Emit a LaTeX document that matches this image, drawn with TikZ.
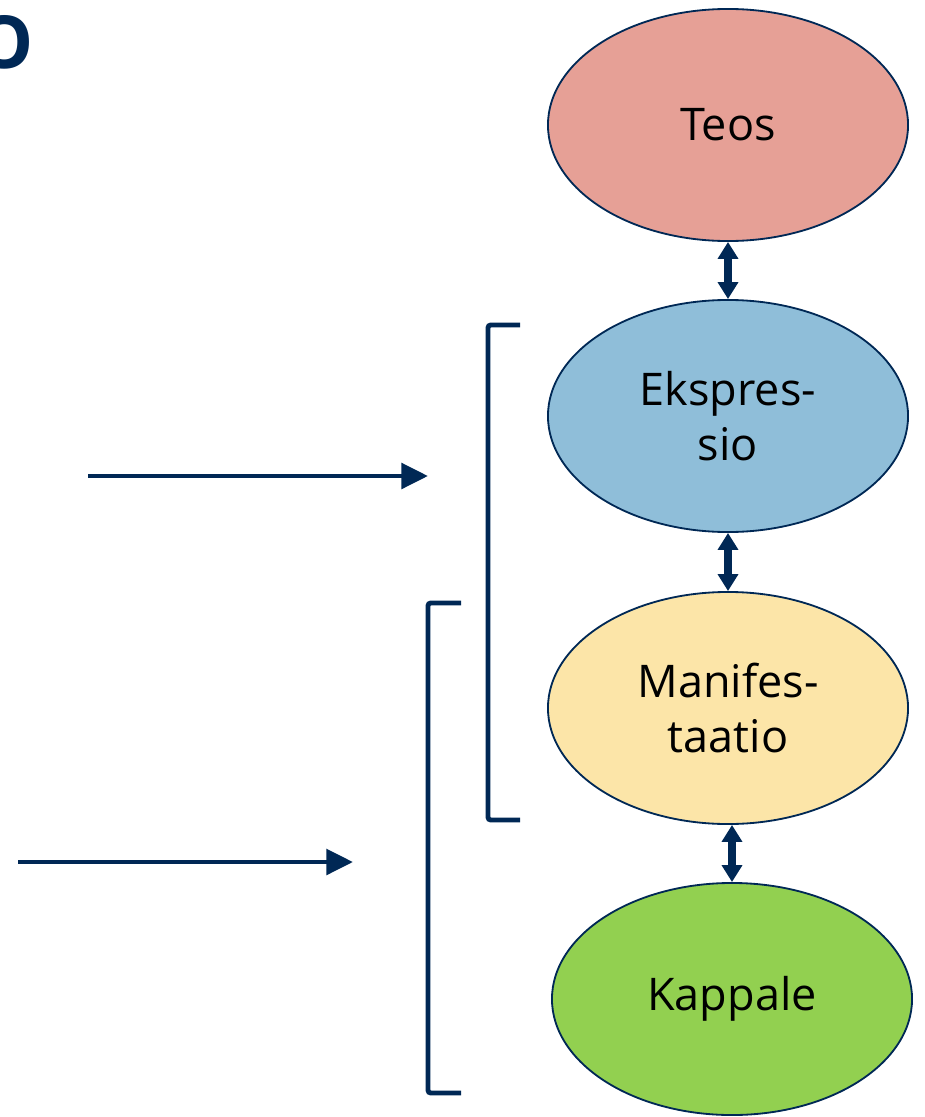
\documentclass[tikz,border=0pt]{standalone}
\usepackage{fontspec}
\setmainfont{Open Sans}
\usepackage{xcolor}
\usetikzlibrary{arrows.meta,shapes.geometric,positioning}
\definecolor{navy}{RGB}{0,40,85}
\definecolor{teosfill}{RGB}{230,160,150}
\definecolor{ekspfill}{RGB}{143,190,217}
\definecolor{maniffill}{RGB}{252,229,168}
\definecolor{kappfill}{RGB}{146,208,80}

\begin{document}
\begin{tikzpicture}[x=0.025cm,y=-0.025cm,
        every node/.style={font=\fontsize{32}{39}\selectfont},
        entity/.style={ellipse,draw=navy,line width=1.3pt,minimum width=9cm,minimum height=5.8cm,inner sep=0pt,align=center},
        rel/.style={navy,line width=5pt,{Triangle[width=14pt,length=12pt]}-{Triangle[width=14pt,length=12pt]}},
        pointer/.style={navy,line width=3.5pt,-{Triangle[width=18pt,length=19pt]}},
        bracket/.style={navy,line width=3.5pt,rounded corners=2pt}]
    \useasboundingbox (0,0) rectangle (925,1117);
    \node [font=\fontsize{52}{52}\selectfont\bfseries,text=navy,anchor=east,inner sep=0pt] (title) at (34,42) {O};
    \node [entity,fill=teosfill] (teos) at (728,125) {Teos};
    \node [entity,fill=ekspfill] (ekspressio) at (728,416) {Ekspres-\\sio};
    \node [entity,fill=maniffill] (manifestaatio) at (728,708) {Manifes-\\taatio};
    \node [entity,fill=kappfill] (kappale) at (732,999) {Kappale};
    \draw [rel] (teos.south) -- (ekspressio.north);
    \draw [rel] (ekspressio.south) -- (manifestaatio.north);
    \draw [rel] (manifestaatio.south -| kappale.north) -- (kappale.north);
    \coordinate (p1) at (88,476);
    \coordinate (q1) at (428,476);
    \coordinate (p2) at (18,862);
    \coordinate (q2) at (353,862);
    \draw [pointer] (p1) -- (q1);
    \draw [pointer] (p2) -- (q2);
    \draw [bracket] (520,325) -- (488,325) -- (488,820) -- (520,820);
    \draw [bracket] (461,603) -- (428,603) -- (428,1093) -- (461,1093);
\end{tikzpicture}
\end{document}
